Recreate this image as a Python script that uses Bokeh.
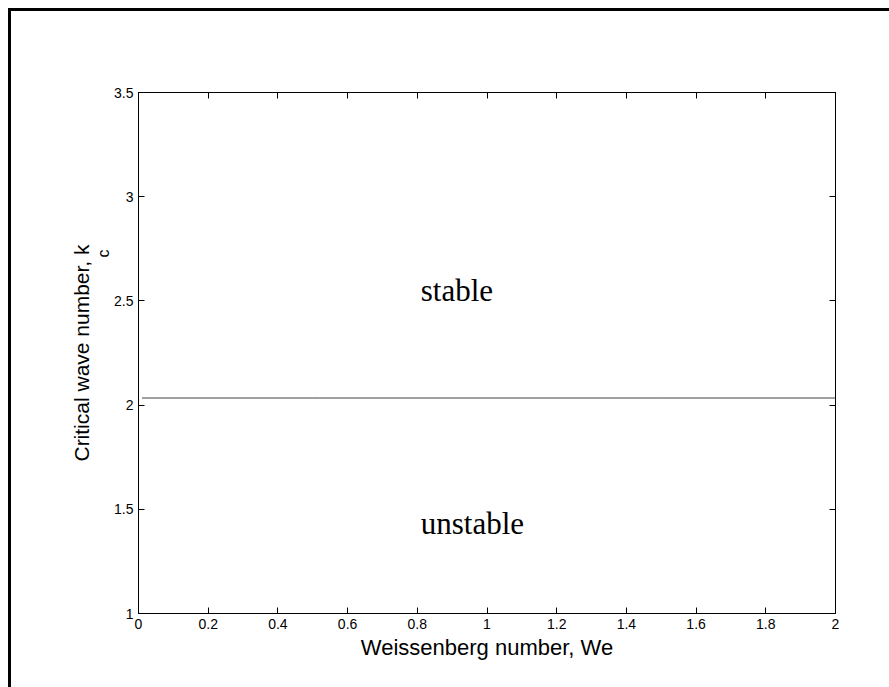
from bokeh.plotting import figure
from bokeh.models import (Range1d, LinearAxis, FixedTicker, Label, Title,
                          CustomJSTickFormatter, PrintfTickFormatter)
from bokeh.embed import file_html
from bokeh.resources import INLINE

# ---- data ----
we = [0.01, 0.5, 1.0, 1.5, 2.0]
kc = [2.034, 2.034, 2.034, 2.034, 2.034]
x_ticks = [0, 0.2, 0.4, 0.6, 0.8, 1.0, 1.2, 1.4, 1.6, 1.8, 2.0]
x_tick_labels = ["0", "0.2", "0.4", "0.6", "0.8", "1", "1.2", "1.4", "1.6", "1.8", "2"]
y_ticks = [1, 1.5, 2, 2.5, 3, 3.5]
y_tick_labels = ["1", "1.5", "2", "2.5", "3", "3.5"]
x_label = "Weissenberg number, We"
y_label = "Critical wave number, k"
y_label_sub = "c"
region_text = ["stable", "unstable"]

SANS = "Liberation Sans"
SERIF = "Liberation Serif"

p = figure(width=889, height=687, x_range=Range1d(0, 2), y_range=Range1d(1, 3.5),
           output_backend="svg", toolbar_location=None,
           min_border_left=138, min_border_right=54, min_border_top=92, min_border_bottom=74)
p.background_fill_color = "white"
p.border_fill_alpha = 0
p.outline_line_color = "black"
p.xgrid.visible = False
p.ygrid.visible = False
# outer figure frame: only its left and top edges are inside the picture
p.styles = {
    "background": "linear-gradient(#000,#000) 8px 8px / 3px 100% no-repeat, "
                  "linear-gradient(#000,#000) 8px 8px / 100% 3px no-repeat, #ffffff"
}

bottom = p.below[0]
left = p.left[0]

p.line(we, kc, line_color="#111111", line_width=0.8)

top = LinearAxis()
right = LinearAxis()
p.add_layout(top, "above")
p.add_layout(right, "right")

blank = CustomJSTickFormatter(code="return ''")

for ax, ticks, labels in [(bottom, x_ticks, x_tick_labels), (left, y_ticks, y_tick_labels)]:
    ax.ticker = FixedTicker(ticks=ticks)
    ax.formatter = PrintfTickFormatter(format="%g")
    ax.major_label_overrides = {float(t): l for t, l in zip(ticks, labels)}
    ax.major_label_text_font = SANS
    ax.major_label_text_font_size = "14px"
    ax.major_label_text_color = "black"
    ax.axis_label_text_font = SANS
    ax.axis_label_text_font_size = "22px"
    ax.axis_label_text_font_style = "normal"
    ax.axis_label_text_color = "black"
    ax.major_label_standoff = 5

for ax, ticks in [(top, x_ticks), (right, y_ticks)]:
    ax.ticker = FixedTicker(ticks=ticks)
    ax.formatter = blank
    ax.major_label_standoff = 0

for ax in [bottom, left, top, right]:
    ax.major_tick_in = 6
    ax.major_tick_out = 0
    ax.minor_tick_in = 0
    ax.minor_tick_out = 0
    ax.axis_line_color = "black"
    ax.major_tick_line_color = "black"

bottom.axis_label = x_label
bottom.axis_label_standoff = 3

# y label with subscript: two stacked titles in the left panel
p.add_layout(Title(text=y_label_sub, align="left", offset=356, standoff=0,
                   text_font=SANS, text_font_size="16px", text_font_style="normal",
                   text_color="black"), "left")
p.add_layout(Title(text=y_label, align="center", offset=0, standoff=0,
                   text_font=SANS, text_font_size="21px", text_font_style="normal",
                   text_color="black"), "left")

# region annotations
p.add_layout(Label(x=0.81, y=2.548, text=region_text[0], text_font=SERIF, text_font_size="31px",
                   text_color="black", text_align="left", text_baseline="alphabetic"))
p.add_layout(Label(x=0.81, y=1.43, text=region_text[1], text_font=SERIF, text_font_size="31px",
                   text_color="black", text_align="left", text_baseline="alphabetic"))

open("out.html", "w").write(file_html(p, INLINE))
